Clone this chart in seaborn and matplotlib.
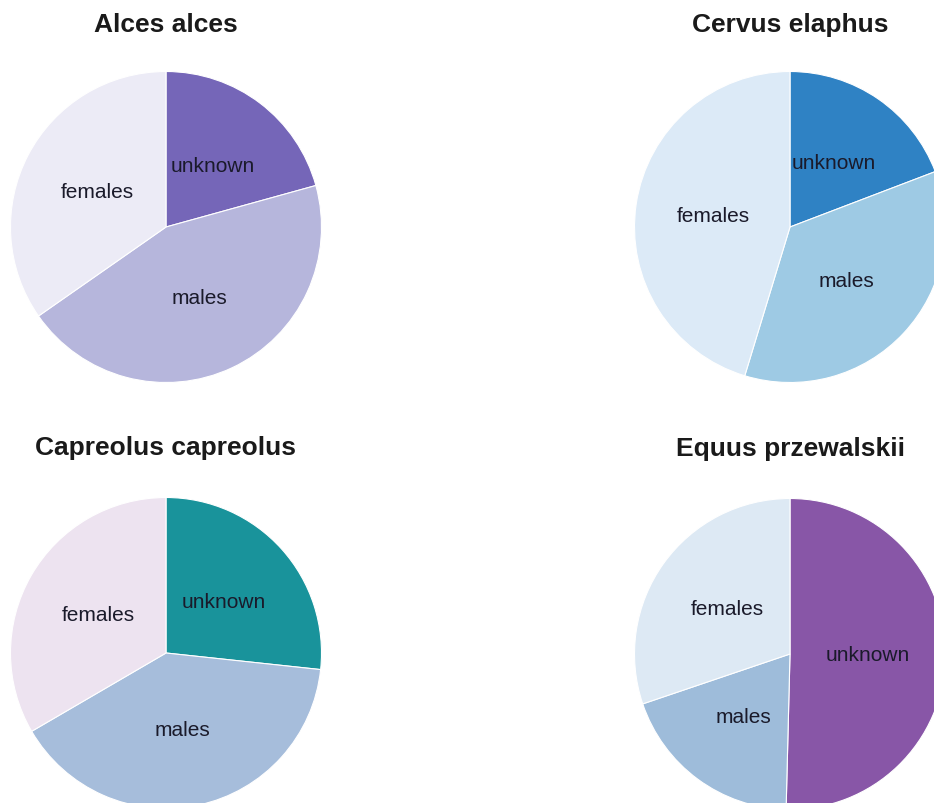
import matplotlib
matplotlib.use("Agg")
import matplotlib.pyplot as plt
import seaborn as sns

# Sex composition of records per species (percent of individuals)
species = ["Alces alces", "Cervus elaphus", "Capreolus capreolus", "Equus przewalskii"]
categories = ["unknown", "males", "females"]
alces = [20.7, 44.6, 34.7]
cervus = [19.2, 35.5, 45.3]
capreolus = [26.7, 39.9, 33.4]
equus = [50.4, 19.4, 30.2]

# Slice colours per species (unknown, males, females)
alces_colors = ["#7566b8", "#b6b6dc", "#ecebf6"]
cervus_colors = ["#2f82c4", "#9ecae4", "#dceaf7"]
capreolus_colors = ["#19939b", "#a6bddb", "#ede3f0"]
equus_colors = ["#8856a7", "#9ebcda", "#dde9f4"]

sns.set_theme(style="white")
plt.rcParams["font.family"] = ["Liberation Sans", "DejaVu Sans"]

W, H = 934, 804
DPI = 100
fig = plt.figure(figsize=(W / DPI, H / DPI), dpi=DPI)
fig.patch.set_facecolor("white")

R = 155.5  # pie radius in pixels
LIM = 1.3
panels = [
    (species[0], alces, alces_colors, (166, 228), 1.262),
    (species[1], cervus, cervus_colors, (790, 228), 1.262),
    (species[2], capreolus, capreolus_colors, (166, 654), 1.28),
    (species[3], equus, equus_colors, (790, 655), 1.28),
]

for title, values, colors, (cx, cy), ty in panels:
    size = 2 * LIM * R
    left = (cx - LIM * R) / W
    bottom = (H - cy - LIM * R) / H
    ax = fig.add_axes([left, bottom, size / W, size / H])
    ax.pie(
        values,
        labels=categories,
        colors=colors,
        startangle=90,
        counterclock=False,
        radius=1.0,
        labeldistance=0.5,
        wedgeprops=dict(edgecolor="white", linewidth=0.8),
        textprops=dict(ha="center", va="center", fontsize=15, color="#1a1a2a"),
    )
    ax.set_xlim(-LIM, LIM)
    ax.set_ylim(-LIM, LIM)
    ax.set_aspect("equal")
    ax.axis("off")
    ax.text(0, ty, title, ha="center", va="baseline", fontsize=19,
            fontweight="bold", color="#1a1a1a", clip_on=False)

fig.savefig("out.png", dpi=DPI, facecolor="white")
